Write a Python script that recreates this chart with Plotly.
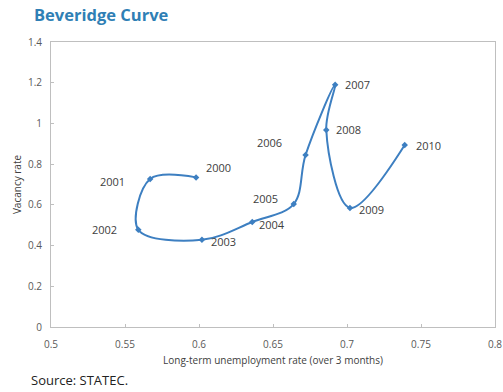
import plotly.graph_objects as go

years = ["2000", "2001", "2002", "2003", "2004", "2005", "2006", "2007", "2008", "2009", "2010"]
unemp = [0.598, 0.567, 0.559, 0.602, 0.636, 0.664, 0.672, 0.692, 0.686, 0.702, 0.739]
vacancy = [0.735, 0.727, 0.478, 0.428, 0.516, 0.604, 0.845, 1.19, 0.968, 0.585, 0.894]
x_ticks = [0.5, 0.55, 0.6, 0.65, 0.7, 0.75, 0.8]
x_tick_text = ["0.5", "0.55", "0.6", "0.65", "0.7", "0.75", "0.8"]
y_ticks = [0, 0.2, 0.4, 0.6, 0.8, 1.0, 1.2, 1.4]
y_tick_text = ["0", "0.2", "0.4", "0.6", "0.8", "1", "1.2", "1.4"]

# label offsets in pixels (dx, dy)
offsets = [(22, 10), (-38, -2), (-34, 0), (22, -2), (20, -3), (-28, 6), (-36, 12), (22, 0), (22, 0), (22, -2), (24, 0)]

line_color = "#3d7fc1"
fig = go.Figure()
fig.add_trace(go.Scatter(
    x=unemp, y=vacancy, mode="lines+markers",
    line=dict(color=line_color, width=2, shape="spline", smoothing=1.0),
    marker=dict(color=line_color, size=5, symbol="diamond"),
    hoverinfo="skip", showlegend=False,
))
for yr, xv, yv, (dx, dy) in zip(years, unemp, vacancy, offsets):
    fig.add_annotation(x=xv, y=yv, text=yr, showarrow=False, xshift=dx, yshift=dy,
                       font=dict(family="Open Sans, Arial", size=11, color="#404040"))

fig.add_annotation(xref="paper", yref="paper", x=-0.042, y=1.095, xanchor="left", yanchor="middle",
                   text="<b>Beveridge Curve</b>", showarrow=False,
                   font=dict(family="Open Sans, Arial", size=16.5, color="#2f7fb5"))
fig.add_annotation(xref="paper", yref="paper", x=-0.05, y=-0.185, xanchor="left", yanchor="middle",
                   text="Source: STATEC.", showarrow=False,
                   font=dict(family="Open Sans, Arial", size=13, color="#222222"))

axis_font = dict(family="Open Sans, Arial", size=10, color="#595959")
fig.update_xaxes(range=[0.5, 0.8], tickvals=x_ticks, ticktext=x_tick_text, automargin=False,
                 showgrid=False, zeroline=False, showline=True, linecolor="#bfbfbf", mirror=True,
                 ticks="inside", ticklen=3, tickcolor="#bfbfbf", tickfont=axis_font, ticklabelstandoff=8,
                 title=dict(text="Long-term unemployment rate (over 3 months)", font=dict(family="Open Sans, Arial", size=10, color="#404040"), standoff=6))
fig.update_yaxes(range=[0, 1.4], tickvals=y_ticks, ticktext=y_tick_text, automargin=False,
                 showgrid=False, zeroline=False, showline=True, linecolor="#bfbfbf", mirror=True,
                 ticks="inside", ticklen=3, tickcolor="#bfbfbf", tickfont=axis_font, ticklabelstandoff=6,
                 title=dict(text="Vacancy rate", font=dict(family="Open Sans, Arial", size=10, color="#404040"), standoff=4))
fig.update_layout(width=503, height=392, margin=dict(l=51, r=8, t=42, b=65),
                  plot_bgcolor="white", paper_bgcolor="white")
fig.write_html("out.html", config={"displayModeBar": False},
               post_script="document.body.style.margin='0';")
